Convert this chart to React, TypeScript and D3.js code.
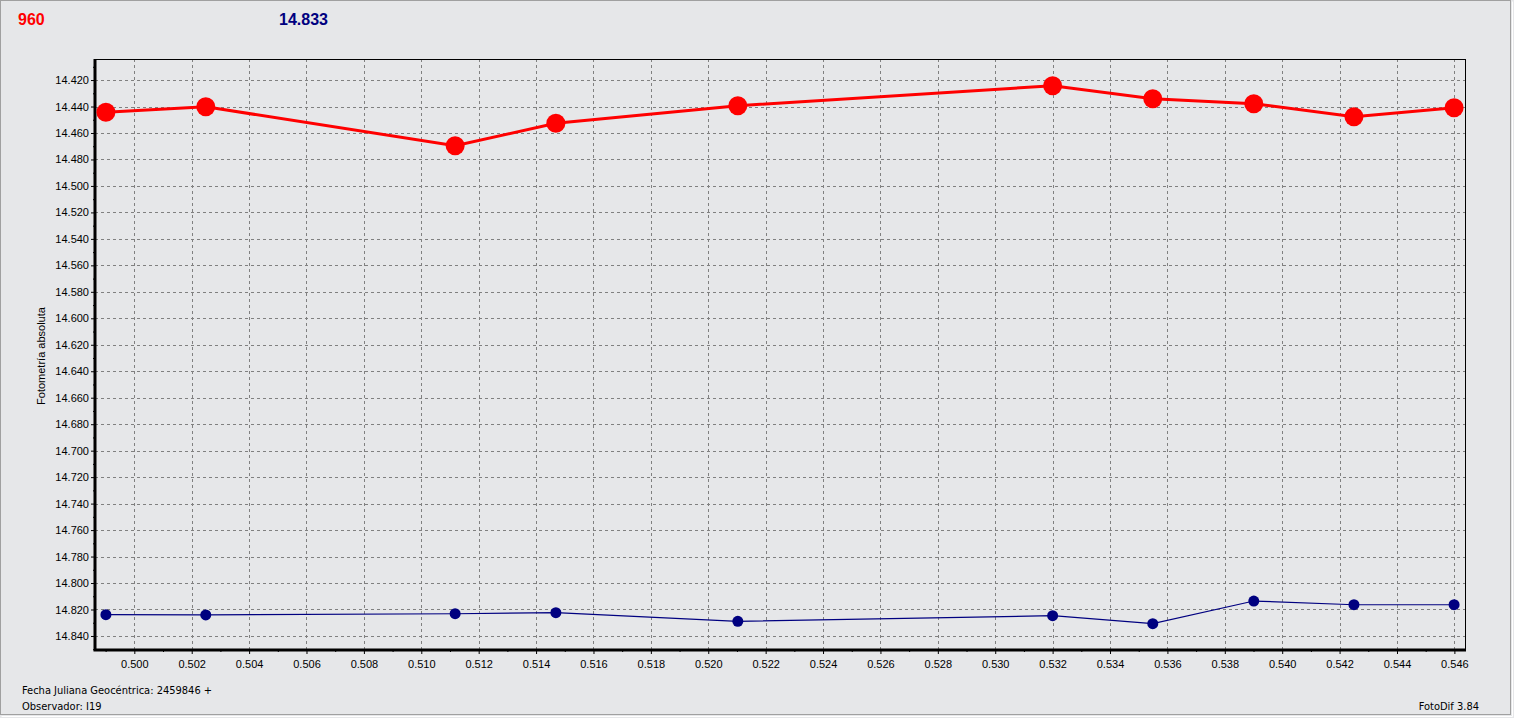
import * as d3 from "d3";
import { useEffect, useRef } from "react";

// Fecha juliana (fraccion) de cada toma
const jdFrac = [0.49901, 0.50249, 0.51118, 0.51469, 0.52103, 0.53200, 0.53549, 0.53901, 0.54250, 0.54599];
// Fotometria de la variable (rojo) y de la comparacion (azul)
const varMag = [14.4444, 14.4402, 14.4696, 14.4527, 14.4394, 14.4243, 14.4341, 14.4379, 14.4477, 14.4409];
const compMag = [14.8239, 14.8241, 14.8232, 14.8224, 14.8289, 14.8247, 14.8307, 14.8136, 14.8164, 14.8164];

const xTicks = d3.range(0, 24).map(i => +(0.5 + i * 0.002).toFixed(3));
const yTicks = d3.range(0, 22).map(i => +(14.42 + i * 0.02).toFixed(3));

const headerLeft = "960";
const headerRight = "14.833";
const yTitle = "Fotometría absoluta";
const footLines = ["Fecha Juliana Geocéntrica: 2459846 +", "Observador: I19"];
const footRight = "FotoDif 3.84";

const App = () => {
    const svgRef = useRef<SVGSVGElement | null>(null);

    useEffect(() => {
        if (!svgRef.current) return;
        document.body.style.margin = "0";

        const width = 1514;
        const height = 718;
        const plot = { left: 95, top: 59, right: 1465, bottom: 650 };
        const font = "'Liberation Sans', Arial, sans-serif";

        const svg = d3.select(svgRef.current)
            .attr("width", width)
            .attr("height", height)
            .style("display", "block")
            .style("font-family", font);
        svg.selectAll("*").remove();

        // fondo y marco de la ventana
        svg.append("rect").attr("width", width).attr("height", height).attr("fill", "#e6e7e9");
        svg.append("rect")
            .attr("x", 0.5).attr("y", 0.5)
            .attr("width", width - 4).attr("height", height - 4)
            .attr("fill", "none").attr("stroke", "#a0a0a0");
        svg.append("path")
            .attr("d", `M1.5,${height - 1.5}H${width - 1.5}V1.5`)
            .attr("fill", "none").attr("stroke", "#ffffff");

        const x = d3.scaleLinear().domain([0.49863, 0.54637]).range([plot.left, plot.right]);
        const y = d3.scaleLinear().domain([14.4041, 14.8506]).range([plot.top, plot.bottom]);

        // rejilla
        const grid = svg.append("g")
            .attr("stroke", "#808080")
            .attr("stroke-dasharray", "3,3")
            .attr("shape-rendering", "crispEdges");
        grid.selectAll("line.v").data(xTicks).join("line")
            .attr("x1", d => Math.round(x(d)) + 0.5).attr("x2", d => Math.round(x(d)) + 0.5)
            .attr("y1", plot.top).attr("y2", plot.bottom);
        grid.selectAll("line.h").data(yTicks).join("line")
            .attr("y1", d => Math.round(y(d)) + 0.5).attr("y2", d => Math.round(y(d)) + 0.5)
            .attr("x1", plot.left).attr("x2", plot.right);

        // ejes
        const xAxis = svg.append("g")
            .attr("transform", `translate(0,${plot.bottom})`)
            .call(d3.axisBottom(x).tickValues(xTicks).tickFormat(d3.format(".3f")).tickSize(4).tickSizeOuter(0));
        svg.append("g")
            .attr("transform", `translate(0,${plot.bottom})`)
            .call(d3.axisBottom(x).tickValues(xTicks.map(t => t + 0.001).filter(t => t < 0.5464).concat([0.499])).tickFormat(() => "").tickSize(2).tickSizeOuter(0))
            .call(g => g.select(".domain").remove());
        const yAxis = svg.append("g")
            .attr("transform", `translate(${plot.left},0)`)
            .call(d3.axisLeft(y).tickValues(yTicks).tickFormat(d3.format(".3f")).tickSize(4).tickSizeOuter(0));
        svg.append("g")
            .attr("transform", `translate(${plot.left},0)`)
            .call(d3.axisLeft(y).tickValues(yTicks.map(t => t + 0.01).concat([14.41])).tickFormat(() => "").tickSize(2).tickSizeOuter(0))
            .call(g => g.select(".domain").remove());

        [xAxis, yAxis].forEach(a => {
            a.select(".domain").remove();
            a.selectAll("text").attr("font-size", 11).attr("font-family", font).attr("fill", "#000");
            a.selectAll("line").attr("stroke", "#000");
        });
        xAxis.selectAll("text").attr("dy", null).attr("y", 18);
        yAxis.selectAll("text").attr("x", -6);

        // marco del grafico
        svg.append("rect")
            .attr("x", plot.left + 0.5).attr("y", plot.top + 0.5)
            .attr("width", plot.right - plot.left).attr("height", plot.bottom - plot.top)
            .attr("fill", "none").attr("stroke", "#000");
        svg.append("path")
            .attr("d", `M${plot.left},${plot.top}V${plot.bottom}H${plot.right + 1}`)
            .attr("fill", "none").attr("stroke", "#000").attr("stroke-width", 3);

        const idx = d3.range(jdFrac.length);
        const line = (vals: number[]) => d3.line<number>().x(i => x(jdFrac[i])).y(i => y(vals[i]))(idx);

        // comparacion (azul)
        svg.append("path").attr("d", line(compMag)).attr("fill", "none")
            .attr("stroke", "#000080").attr("stroke-width", 1.2);
        svg.append("g").selectAll("circle").data(idx).join("circle")
            .attr("cx", i => x(jdFrac[i])).attr("cy", i => y(compMag[i])).attr("r", 5.5)
            .attr("fill", "#000080");

        // variable (rojo)
        svg.append("path").attr("d", line(varMag)).attr("fill", "none")
            .attr("stroke", "#ff0000").attr("stroke-width", 3);
        svg.append("g").selectAll("circle").data(idx).join("circle")
            .attr("cx", i => x(jdFrac[i])).attr("cy", i => y(varMag[i])).attr("r", 9.5)
            .attr("fill", "#ff0000");

        // textos
        svg.append("text").attr("x", 18).attr("y", 25).text(headerLeft)
            .attr("font-size", 16).attr("font-weight", "bold").attr("fill", "#ff0000");
        svg.append("text").attr("x", 279).attr("y", 25).text(headerRight)
            .attr("font-size", 16).attr("font-weight", "bold").attr("fill", "#000080");
        svg.append("text")
            .attr("transform", `translate(45,356) rotate(-90)`)
            .attr("text-anchor", "middle").attr("font-size", 11).text(yTitle);
        svg.selectAll("text.foot").data(footLines).join("text")
            .attr("x", 22).attr("y", (_, i) => 694 + i * 16)
            .attr("font-size", 11).attr("font-family", "Tahoma, 'DejaVu Sans Condensed', sans-serif")
            .text(d => d);
        svg.append("text").attr("x", 1479).attr("y", 710).attr("text-anchor", "end")
            .attr("font-size", 11).attr("font-family", "Tahoma, 'DejaVu Sans Condensed', sans-serif")
            .text(footRight);
    }, []);

    return <svg ref={svgRef}></svg>;
};

export default App;
